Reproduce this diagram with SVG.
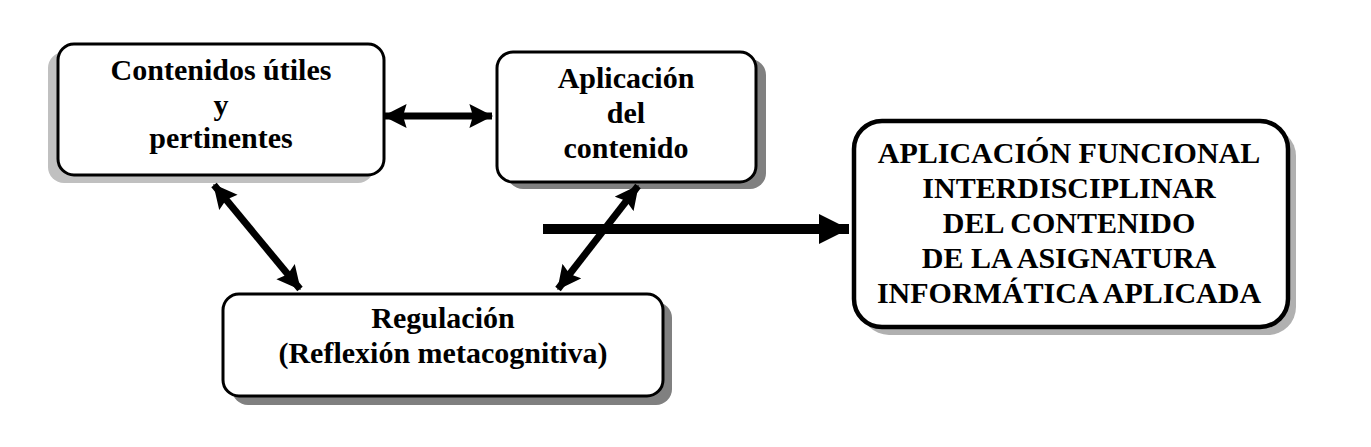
<svg xmlns="http://www.w3.org/2000/svg" width="1371" height="447" viewBox="0 0 1371 447">
<style>
.box{fill:#fff;stroke:#000;stroke-width:3}
.t{font-family:"Liberation Serif","Times New Roman",serif;font-weight:bold;font-size:30px;text-anchor:middle;fill:#000}
.c{stroke:#000;stroke-width:7;fill:none}
</style>
<defs>
<marker id="ah" viewBox="0 0 10 10" refX="9.5" refY="5" markerWidth="3.4" markerHeight="3.6" orient="auto-start-reverse" markerUnits="strokeWidth">
<path d="M0,0 L10,5 L0,10 L1.5,5 Z" fill="#000"/>
</marker>
<marker id="ah2" viewBox="0 0 10 10" refX="10" refY="5" markerWidth="3" markerHeight="3" orient="auto" markerUnits="strokeWidth">
<path d="M0,0 L10,5 L0,10 Z" fill="#000"/>
</marker>
</defs>
<rect width="1371" height="447" fill="#fff"/>
<g id="n1">
<rect x="48" y="52" width="326" height="131" rx="16" fill="#c0c0c0"/>
<rect class="box" x="58" y="44" width="326" height="131" rx="16"/>
<text class="t" x="221" y="80">Contenidos útiles</text>
<text class="t" x="221" y="115">y</text>
<text class="t" x="221" y="148">pertinentes</text>
</g>
<g id="n2">
<rect x="507" y="59" width="259" height="130" rx="16" fill="#808080"/>
<rect class="box" x="497" y="52" width="259" height="130" rx="16"/>
<text class="t" x="626" y="88">Aplicación</text>
<text class="t" x="626" y="123">del</text>
<text class="t" x="626" y="158">contenido</text>
</g>
<g id="n3">
<rect x="861" y="128" width="435" height="207" rx="28" fill="#b0b0b0"/>
<rect x="854" y="121" width="434" height="206" rx="28" fill="#fff" stroke="#000" stroke-width="4.5"/>
<text class="t" x="1069" y="163">APLICACIÓN FUNCIONAL</text>
<text class="t" x="1069" y="198">INTERDISCIPLINAR</text>
<text class="t" x="1069" y="233">DEL CONTENIDO</text>
<text class="t" x="1069" y="268">DE LA ASIGNATURA</text>
<text class="t" x="1069" y="303">INFORMÁTICA APLICADA</text>
</g>
<g id="n4">
<rect x="232" y="302" width="440" height="103" rx="16" fill="#808080"/>
<rect class="box" x="223" y="294" width="440" height="102" rx="16"/>
<text class="t" x="443" y="328">Regulación</text>
<text class="t" x="443" y="363">(Reflexión metacognitiva)</text>
</g>
<g id="connectors">
<line class="c" x1="384" y1="116" x2="492" y2="116" marker-start="url(#ah)" marker-end="url(#ah)"/>
<line class="c" x1="214" y1="185" x2="300" y2="289" marker-start="url(#ah)" marker-end="url(#ah)"/>
<line class="c" x1="638" y1="186" x2="558" y2="289" marker-start="url(#ah)" marker-end="url(#ah)"/>
<line x1="543" y1="229" x2="849" y2="229" stroke="#000" stroke-width="10" marker-end="url(#ah2)"/>
</g>
</svg>
